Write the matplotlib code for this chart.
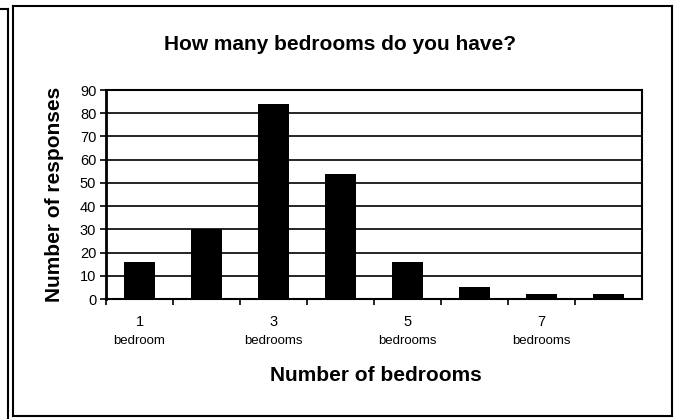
import matplotlib
matplotlib.use("Agg")
import matplotlib.pyplot as plt
from matplotlib.lines import Line2D
import matplotlib.transforms as mtransforms

plt.rcParams['font.family'] = ['Liberation Sans', 'DejaVu Sans']

categories = [1, 2, 3, 4, 5, 6, 7, 8]
responses = [16, 30, 84, 54, 16, 5, 2, 2]
label_numbers = ["1", "", "3", "", "5", "", "7", ""]
label_words = ["bedroom", "", "bedrooms", "", "bedrooms", "", "bedrooms", ""]
yticks = [0, 10, 20, 30, 40, 50, 60, 70, 80, 90]

fig = plt.figure(figsize=(6.8, 4.19), dpi=100)
ax = fig.add_axes([106/680, 1-299/419, (642-106)/680, (299-90)/419])

ax.bar(categories, responses, width=0.45, color='black', zorder=3)
ax.set_xlim(0.5, 8.5)
ax.set_ylim(0, 90)
ax.set_yticks(yticks)
ax.set_yticklabels([str(v) for v in yticks], fontsize=10.5)
ax.yaxis.grid(True, color='black', linewidth=1.2, zorder=0)
ax.tick_params(axis='y', direction='out', length=4, width=1.2, pad=3)
ax.set_xticks([c + 0.5 for c in categories[:-1]] + [0.5])
ax.set_xticklabels([])
ax.tick_params(axis='x', direction='out', length=4, width=1.2)
for s in ax.spines.values():
    s.set_linewidth(1.5)
    s.set_color('black')
ax.spines['left'].set_linewidth(2)

trans = mtransforms.blended_transform_factory(ax.transData, fig.transFigure)
for c, n, w in zip(categories, label_numbers, label_words):
    if n:
        ax.text(c, 1-322/419, n, transform=trans, ha='center', va='center', fontsize=10.5)
        ax.text(c, 1-341/419, w, transform=trans, ha='center', va='center', fontsize=9.5)

fig.text(340/680, 1-45/419, "How many bedrooms do you have?", ha='center', va='center',
         fontsize=15, fontweight='bold')
fig.text(376/680, 1-375/419, "Number of bedrooms", ha='center', va='center',
         fontsize=15, fontweight='bold')
fig.text(55/680, 1-194/419, "Number of responses", ha='center', va='center',
         fontsize=15, fontweight='bold', rotation=90)

# frame lines
def fl(xs, ys, lw=1.5):
    fig.add_artist(Line2D([x/680 for x in xs], [1-y/419 for y in ys],
                          color='black', linewidth=lw, transform=fig.transFigure))
fl([13, 672], [6, 6])
fl([672, 672], [6, 416])
fl([13, 672], [416, 416])
fl([13, 13], [6, 416])
fl([8, 8], [9, 419])
fl([0, 8], [9, 9])

fig.savefig("out.png", dpi=100)
